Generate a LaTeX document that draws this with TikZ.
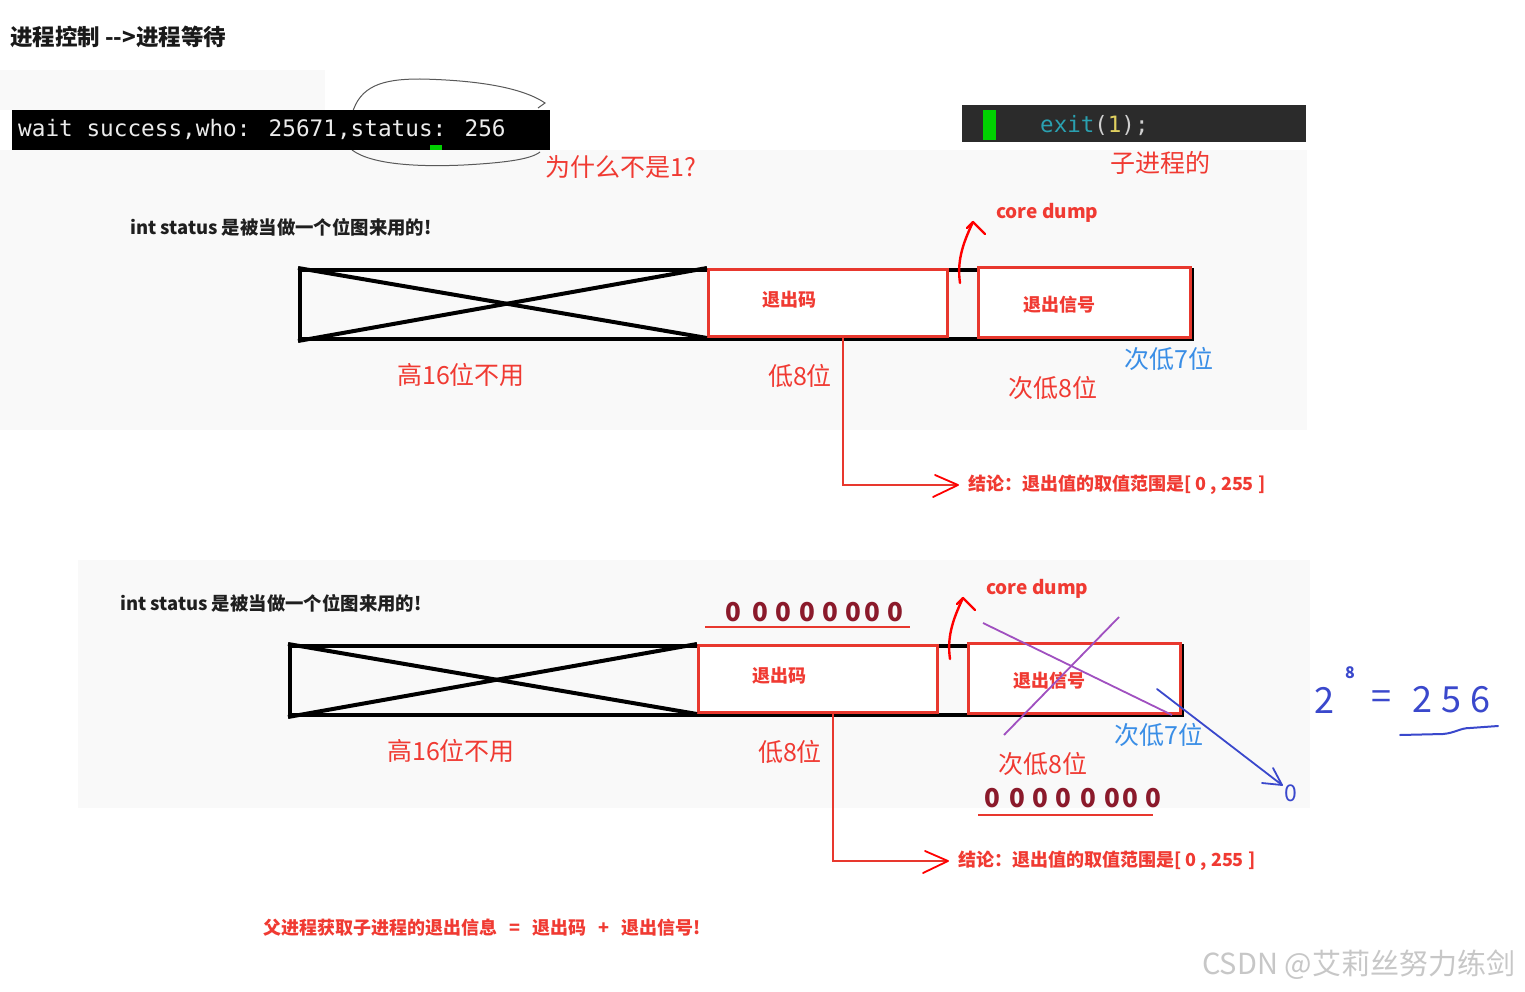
\documentclass[tikz,border=0pt]{standalone}
\usepackage{fontspec}
\setmainfont{Noto Sans CJK SC}
\newfontfamily\termfont{DejaVu Sans Mono}
\usetikzlibrary{calc}
\definecolor{lbred}{HTML}{F03A32}
\definecolor{boxred}{HTML}{E8382E}
\definecolor{lbblue}{HTML}{3A8EE6}
\definecolor{inkred}{HTML}{8B1A2B}
\definecolor{inkpurple}{HTML}{A050C0}
\definecolor{inkblue}{HTML}{3A48CC}
\definecolor{panel}{HTML}{F9F9F9}
\definecolor{codebg}{HTML}{2B2B2B}
\definecolor{codeteal}{HTML}{2AA0B0}
\definecolor{codeyellow}{HTML}{E0D060}
\definecolor{codegray}{HTML}{D0D0D0}
\definecolor{cursorgreen}{HTML}{00D000}
\tikzset{
  lbl/.style={text=lbred, inner sep=0pt, font=\fontsize{25}{30}\selectfont},
  bluelbl/.style={text=lbblue, inner sep=0pt, font=\fontsize{25}{30}\selectfont},
  boldlbl/.style={text=lbred, inner sep=0pt, font=\fontsize{18}{22}\selectfont\bfseries},
  headlbl/.style={text=black!88, inner sep=0pt, font=\fontsize{18.4}{22}\selectfont\bfseries},
  barframe/.style={draw=black, line width=4pt, inner sep=0pt, anchor=north west},
  blackline/.style={draw=black, line width=4pt},
  redbox/.style={draw=boxred, line width=3pt, fill=white, inner sep=0pt, anchor=north west},
  redline/.style={draw=boxred, line width=1.6pt},
  handred/.style={draw=red, line width=2.4pt, line cap=round, line join=round},
  digit/.style={text=inkred, inner sep=0pt, font=\fontsize{26}{30}\selectfont\bfseries},
}
\newcommand\statusdiag[1]{%
  \node[headlbl, anchor=west] (#1int) at (130,227) {int status 是被当做一个位图来用的!};
  \node[barframe, minimum width=892pt, minimum height=69pt] (#1bar) at (298,268) {};
  \node[redbox, minimum width=239pt, minimum height=67pt] (#1code) at (707,268) {};
  \draw[blackline] (#1bar.north west) -- (#1code.south west);
  \draw[blackline] (#1bar.south west) -- (#1code.north west);
  \node[redbox, minimum width=212pt, minimum height=70pt] (#1sig) at (977,266) {};
  \node[boldlbl] (#1codetxt) at (789,300) {退出码};
  \node[boldlbl] (#1sigtxt) at (1059,305) {退出信号};
  \node[boldlbl, font=\fontsize{19}{22}\selectfont\bfseries, anchor=west] (#1core) at (996,213) {core dump};
  \coordinate (#1cs) at (960,283);
  \coordinate (#1ct) at (973,222);
  \draw[handred] (#1cs) .. controls (957,262) and (962,245) .. (#1ct);
  \draw[handred] ($(#1ct)+(-6,6)$) -- (#1ct) -- ($(#1ct)+(12,12)$);
  \node[lbl] (#1high) at (461,375) {高16位不用};
  \node[lbl] (#1low) at (800,376) {低8位};
  \node[lbl] (#1sub) at (1053,388) {次低8位};
  \node[bluelbl] (#1sub7) at (1169,359) {次低7位};
  \coordinate (#1start) at (843,338);
  \coordinate (#1tip) at (958,485);
  \draw[redline] (#1start) |- (#1tip);
  \draw[handred, line width=1.8pt] ($(#1tip)+(-23,-10)$) -- (#1tip) -- ($(#1tip)+(-25,12)$);
  \node[boldlbl, anchor=west] (#1concl) at (968,485) {结论：退出值的取值范围是[ 0 , 255 ]};
}
\begin{document}
\begin{tikzpicture}[x=1pt,y=-1pt]
\useasboundingbox (0,0) rectangle (1525,992);
\fill[white] (0,0) rectangle (1525,992);
\fill[panel] (0,70) rectangle (325,110);
\fill[panel] (0,150) rectangle (1307,430);
\fill[panel] (78,560) rectangle (1310,808);

\node[inner sep=0pt, anchor=west, font=\fontsize{22.5}{26}\selectfont\bfseries, text=black!90] (title) at (10,37) {进程控制 -{}->进程等待};

% hand loop around 256
\draw[black!65, line width=1pt] (352,114) .. controls (360,86) and (382,79) .. (420,79) .. controls (470,80) and (520,86) .. (545,103) -- (538,108);
\draw[black!65, line width=1pt] (352,150) .. controls (372,165) and (420,167) .. (464,165) .. controls (500,163) and (530,160) .. (540,152);

% terminal
\node[fill=black, inner sep=0pt, minimum width=538pt, minimum height=40pt, anchor=north west] (term) at (12,110) {};
\node[inner sep=0pt, anchor=west, text=white!92!black, font=\termfont\fontsize{22.7}{26}\selectfont] (termtxt) at (18,129) {wait success,who: 25671,status: 256};
\node[fill=cursorgreen, inner sep=0pt, minimum width=12pt, minimum height=5pt, anchor=north west] (cursor) at (430,145) {};

\node[lbl, anchor=west] (why) at (545,167) {为什么不是1?};

% code bar
\node[fill=codebg, inner sep=0pt, minimum width=344pt, minimum height=37pt, anchor=north west] (codebar) at (962,105) {};
\node[fill=cursorgreen, inner sep=0pt, minimum width=13pt, minimum height=30pt, anchor=north west] (codegreen) at (983,110) {};
\node[inner sep=0pt, anchor=west, font=\termfont\fontsize{22.5}{26}\selectfont] (codetxt) at (1040,126) {\textcolor{codeteal}{exit}\textcolor{codegray}{(}\textcolor{codeyellow}{1}\textcolor{codegray}{);}};
\node[lbl, anchor=west] (child) at (1110,163) {子进程的};

% first diagram
\statusdiag{a}

% second diagram
\begin{scope}[shift={(-10,376)}]
\statusdiag{b}
\end{scope}

% handwritten bits
\foreach \x [count=\i] in {733,760,783,807,830,853,872,895}
  \node[digit] (ta\i) at (\x,612) {0};
\draw[boxred, line width=2pt] (705,627) -- (910,627);
\foreach \x [count=\i] in {992,1017,1040,1063,1088,1112,1130,1153}
  \node[digit] (tb\i) at (\x,798) {0};
\draw[boxred, line width=2pt] (978,815) -- (1153,815);

% purple cross
\draw[inkpurple, line width=1.8pt] (983,623) -- (1172,715);
\draw[inkpurple, line width=1.8pt] (1119,617) -- (1004,735);

% blue arrow to 0
\node[inner sep=0pt, text=inkblue, font=\fontsize{23}{26}\selectfont] (zero) at (1291,793) {0};
\coordinate (bs) at (1157,689);
\coordinate (bt) at (1282,785);
\draw[inkblue, line width=1.8pt, line cap=round] (bs) -- (bt);
\draw[inkblue, line width=1.8pt, line cap=round, line join=round] ($(bt)+(-20,-2)$) -- (bt) -- ($(bt)+(-9,-17)$);

% 2^8 = 256
\node[inner sep=0pt, text=inkblue, font=\fontsize{36}{40}\selectfont] (two) at (1324,700) {2};
\node[inner sep=0pt, text=inkblue, font=\fontsize{16}{18}\selectfont\bfseries] (eight) at (1350,673) {8};
\node[inner sep=0pt, text=inkblue, font=\fontsize{36}{40}\selectfont] (eq) at (1381,700) {=};
\node[inner sep=0pt, text=inkblue, font=\fontsize{36}{40}\selectfont] (res) at (1451,700) {2\hspace{9pt}5\hspace{9pt}6};
\draw[inkblue, line width=2pt, line cap=round] (1400,735) -- (1443,734) .. controls (1455,733) and (1460,728) .. (1470,728) -- (1498,726);

% bottom summary
\node[boldlbl, anchor=west] (sum) at (263,928) {父进程获取子进程的退出信息\hspace{12pt}=\hspace{12pt}退出码\hspace{12pt}+\hspace{12pt}退出信号!};

% watermark
\node[inner sep=0pt, anchor=west, text=black!22, font=\fontsize{29}{32}\selectfont] (wm) at (1202,965) {CSDN @艾莉丝努力练剑};
\end{tikzpicture}
\end{document}
